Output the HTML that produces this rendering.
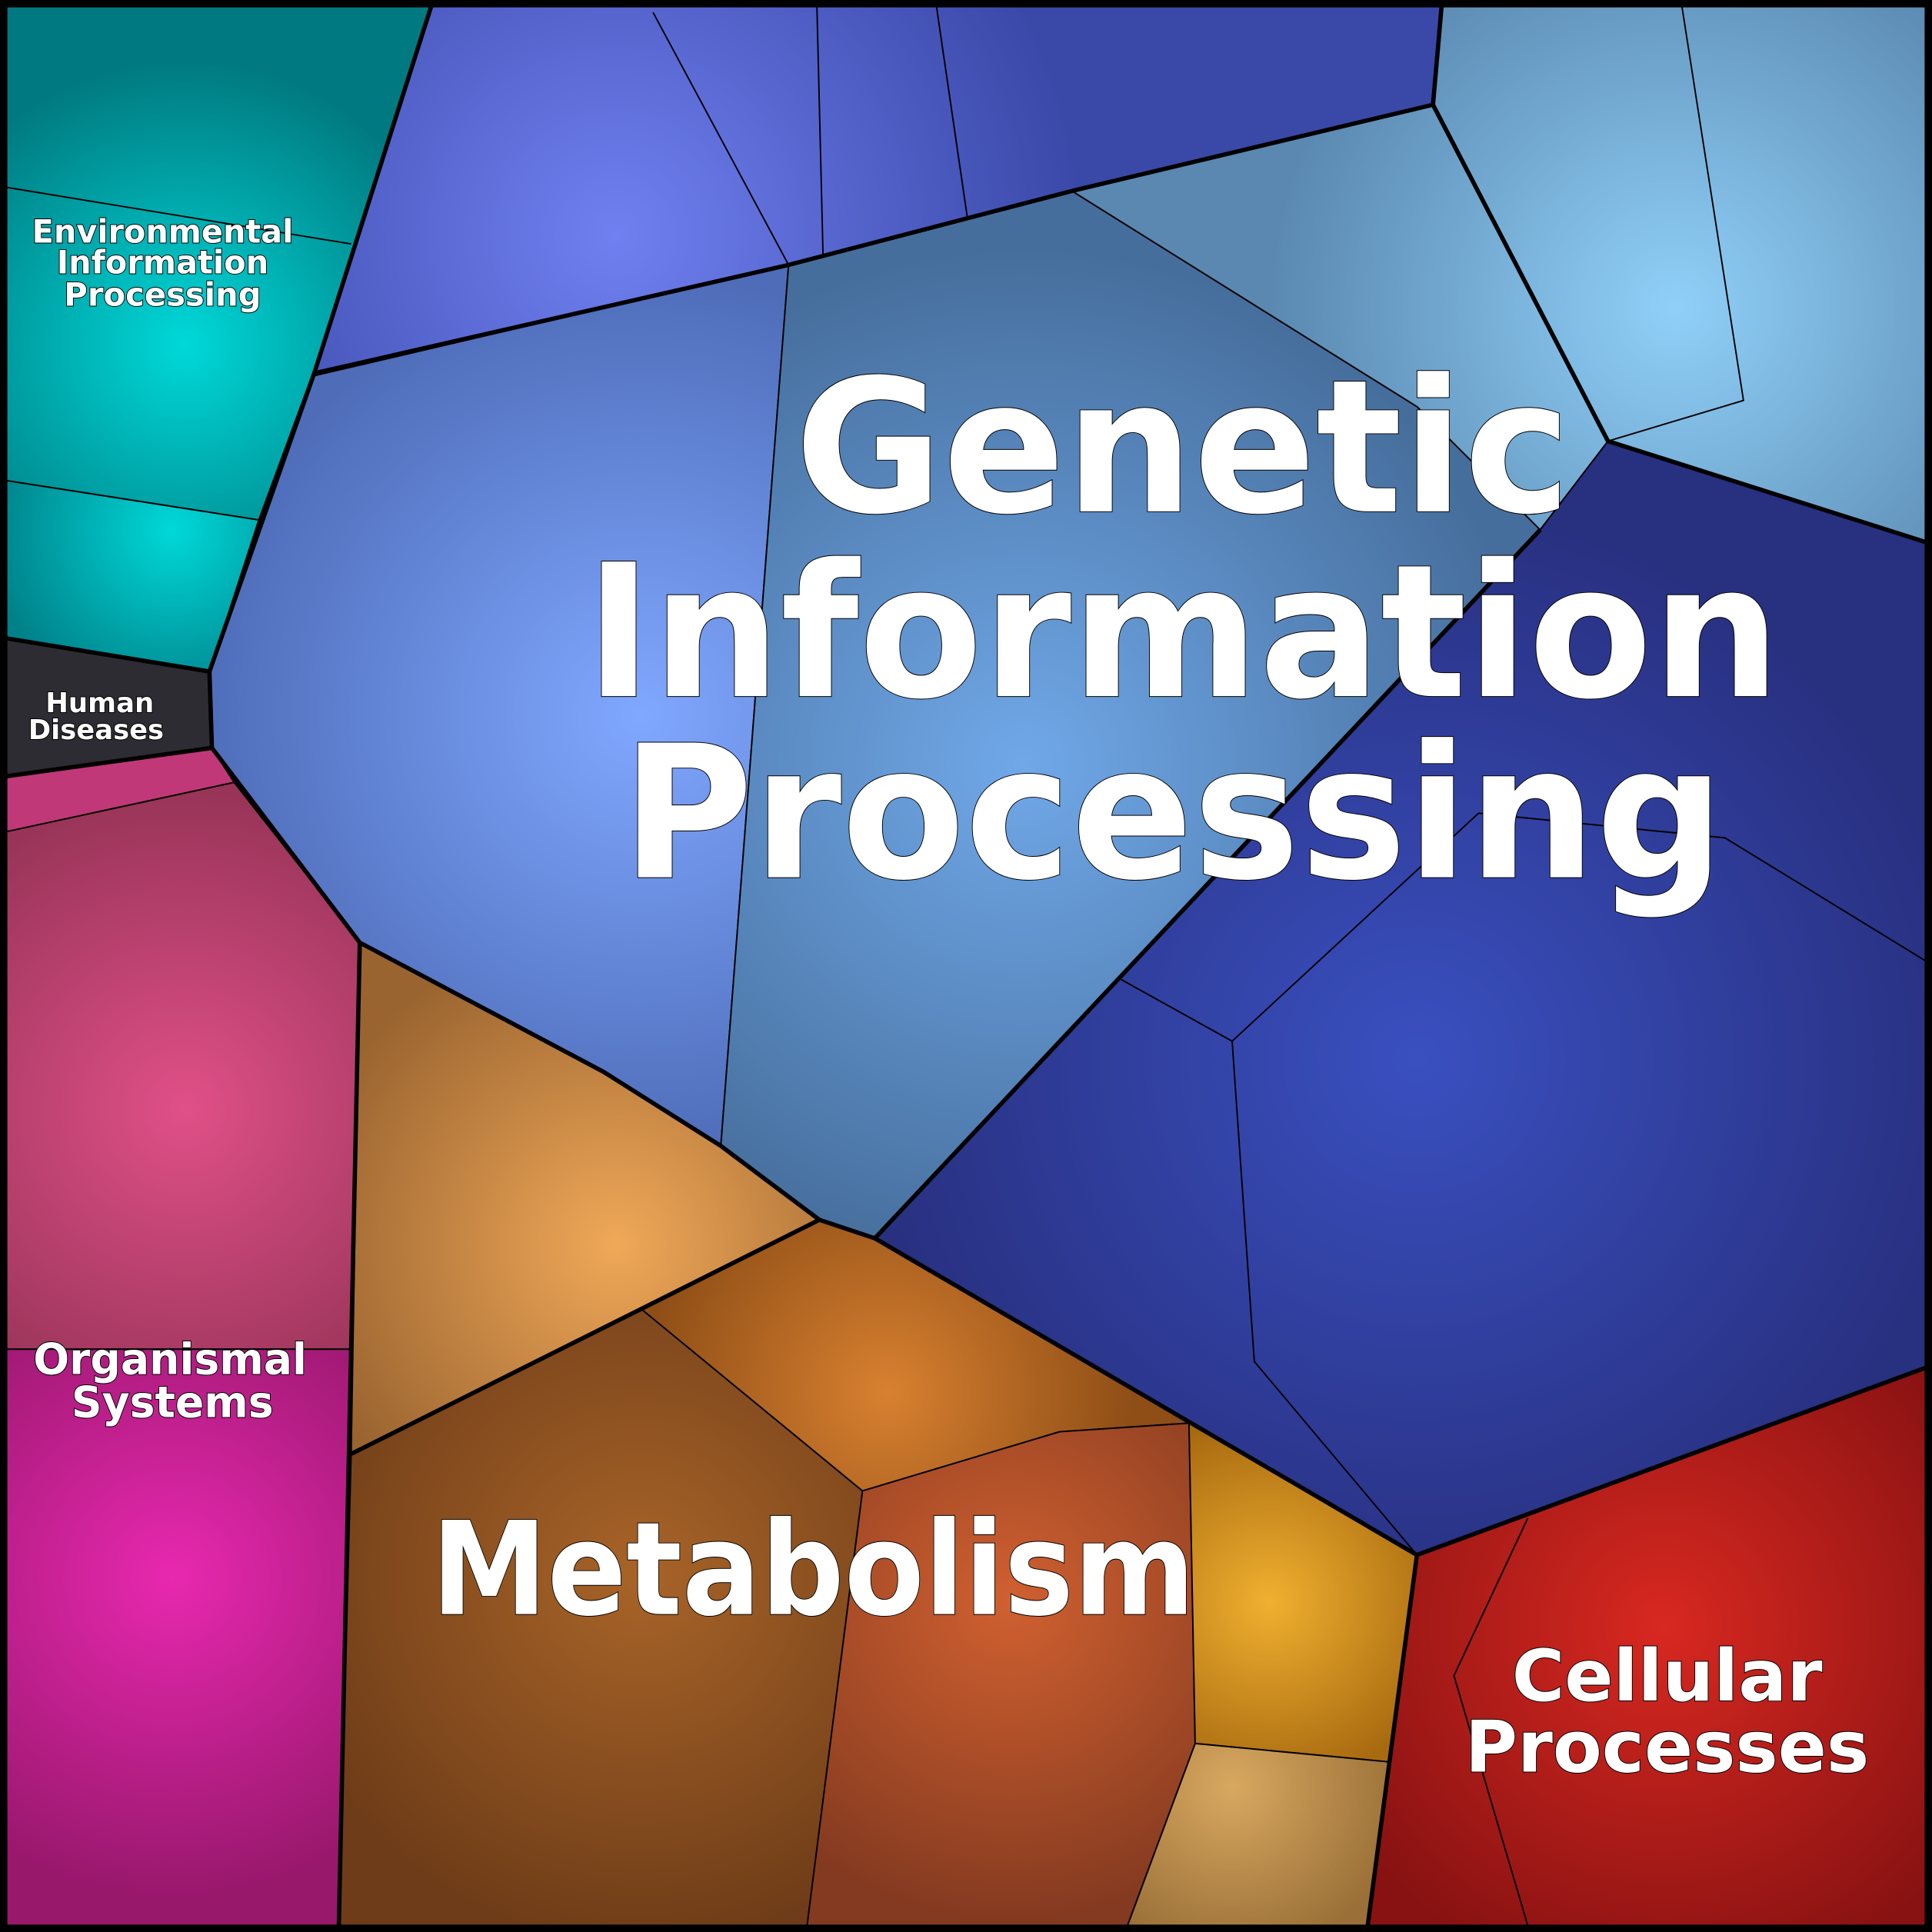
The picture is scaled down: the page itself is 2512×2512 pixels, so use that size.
<!DOCTYPE html>
<html><head><meta charset="utf-8">
<style>
html,body{margin:0;padding:0;background:#000;}
svg{display:block;}
text{font-family:"DejaVu Sans","Liberation Sans",sans-serif;font-weight:bold;fill:#fff;stroke:#000;paint-order:stroke;text-anchor:middle;}
</style></head>
<body>
<svg width="2512" height="2512" viewBox="0 0 1568 1568" xmlns="http://www.w3.org/2000/svg">
<defs>
<radialGradient id="gA" gradientUnits="userSpaceOnUse" cx="500" cy="190" r="380"><stop offset="0" stop-color="#7080f0"/><stop offset="1" stop-color="#3a48a8"/></radialGradient>
<radialGradient id="gB" gradientUnits="userSpaceOnUse" cx="520" cy="580" r="360"><stop offset="0" stop-color="#80a8ff"/><stop offset="1" stop-color="#4e6cb8"/></radialGradient>
<radialGradient id="gC" gradientUnits="userSpaceOnUse" cx="830" cy="620" r="420"><stop offset="0" stop-color="#70a8e8"/><stop offset="1" stop-color="#466e9c"/></radialGradient>
<radialGradient id="gD" gradientUnits="userSpaceOnUse" cx="1360" cy="250" r="330"><stop offset="0" stop-color="#90d0f8"/><stop offset="1" stop-color="#5a88b0"/></radialGradient>
<radialGradient id="gE" gradientUnits="userSpaceOnUse" cx="1150" cy="860" r="450"><stop offset="0" stop-color="#3a50c0"/><stop offset="1" stop-color="#283080"/></radialGradient>
<radialGradient id="gM1" gradientUnits="userSpaceOnUse" cx="500" cy="1010" r="260"><stop offset="0" stop-color="#f0a858"/><stop offset="1" stop-color="#9a6430"/></radialGradient>
<radialGradient id="gM2" gradientUnits="userSpaceOnUse" cx="520" cy="1280" r="300"><stop offset="0" stop-color="#a86428"/><stop offset="1" stop-color="#6e3c18"/></radialGradient>
<radialGradient id="gM3" gradientUnits="userSpaceOnUse" cx="720" cy="1130" r="200"><stop offset="0" stop-color="#d88030"/><stop offset="1" stop-color="#8e4e16"/></radialGradient>
<radialGradient id="gM4" gradientUnits="userSpaceOnUse" cx="820" cy="1300" r="260"><stop offset="0" stop-color="#d06030"/><stop offset="1" stop-color="#843a20"/></radialGradient>
<radialGradient id="gM5" gradientUnits="userSpaceOnUse" cx="1030" cy="1300" r="150"><stop offset="0" stop-color="#f0b030"/><stop offset="1" stop-color="#a86a10"/></radialGradient>
<radialGradient id="gM6" gradientUnits="userSpaceOnUse" cx="1000" cy="1450" r="140"><stop offset="0" stop-color="#d8a860"/><stop offset="1" stop-color="#9a7038"/></radialGradient>
<radialGradient id="gR" gradientUnits="userSpaceOnUse" cx="1350" cy="1320" r="300"><stop offset="0" stop-color="#d82820"/><stop offset="1" stop-color="#881212"/></radialGradient>
<radialGradient id="gT" gradientUnits="userSpaceOnUse" cx="150" cy="280" r="230"><stop offset="0" stop-color="#00d8d8"/><stop offset="1" stop-color="#007a80"/></radialGradient>
<radialGradient id="gT2" gradientUnits="userSpaceOnUse" cx="140" cy="430" r="150"><stop offset="0" stop-color="#00d8d8"/><stop offset="1" stop-color="#008088"/></radialGradient>
<radialGradient id="gO1" gradientUnits="userSpaceOnUse" cx="150" cy="900" r="260"><stop offset="0" stop-color="#e05088"/><stop offset="1" stop-color="#983458"/></radialGradient>
<radialGradient id="gO2" gradientUnits="userSpaceOnUse" cx="140" cy="1280" r="260"><stop offset="0" stop-color="#e828b0"/><stop offset="1" stop-color="#98186c"/></radialGradient>
</defs>
<rect x="0" y="0" width="1568" height="1568" fill="#000"/>
<g stroke="#000" stroke-width="1.2" stroke-linejoin="round">
<polygon fill="url(#gA)" points="350,5 1170,5 1163,85 870,155 640,215 255,305"/>
<polygon fill="url(#gB)" points="255,305 640,215 585,930 490,870 292,765 172,607 170,545"/>
<polygon fill="url(#gC)" points="640,215 870,155 1150,330 1250,430 710,1005 665,990 585,930"/>
<polygon fill="url(#gD)" points="1163,85 1170,5 1563,5 1563,440 1305,358 1250,430 1150,330 870,155"/>
<polygon fill="url(#gE)" points="1250,430 1305,358 1563,440 1563,1110 1150,1262 710,1005"/>
<polyline fill="none" points="1305,358 1415,325 1365,5"/>
<polyline fill="none" points="1000,845 1018,1105 1150,1262"/>
<polyline fill="none" points="1000,845 910,795"/>
<polyline fill="none" points="1000,845 1200,660 1400,680 1563,780"/>
<polyline fill="none" points="640,215 530,10"/>
<polyline fill="none" points="668,208 663,5"/>
<polyline fill="none" points="785,176 760,5"/>
<polygon fill="url(#gM1)" points="292,765 490,870 585,930 665,990 285,1180"/>
<polygon fill="url(#gM2)" points="285,1180 520,1062 700,1210 655,1563 275,1563"/>
<polygon fill="url(#gM3)" points="520,1062 665,990 710,1005 965,1155 860,1162 700,1210"/>
<polygon fill="url(#gM4)" points="700,1210 860,1162 965,1155 970,1415 915,1563 655,1563"/>
<polygon fill="url(#gM5)" points="965,1155 1150,1262 1128,1430 970,1415"/>
<polygon fill="url(#gM6)" points="970,1415 1128,1430 1110,1563 915,1563"/>
<polygon fill="url(#gR)" points="1150,1262 1563,1110 1563,1563 1110,1563"/>
<polyline fill="none" points="1240,1232 1180,1360 1240,1563"/>
<polygon fill="url(#gT)" points="5,5 350,5 255,300 210,422 5,390"/>
<polygon fill="url(#gT2)" points="5,390 210,422 170,545 5,518"/>
<polyline fill="none" points="5,152 285,198"/>
<polygon fill="#2c2c32" points="5,518 170,545 172,607 5,630"/>
<polygon fill="#c03878" points="5,630 172,607 190,635 5,675"/>
<polygon fill="url(#gO1)" points="5,675 190,635 292,765 285,1095 5,1095"/>
<polygon fill="url(#gO2)" points="5,1095 285,1095 275,1563 5,1563"/>
</g>
<g fill="none" stroke="#000" stroke-width="3.5" stroke-linejoin="round">
<polyline points="350,5 255,303 170,545 5,518"/>
<polyline points="170,545 172,607 5,630"/>
<polyline points="172,607 292,765 490,870 585,930 665,990 710,1005 1150,1262 1563,1110"/>
<polyline points="292,765 275,1563"/>
<polyline points="1150,1262 1110,1563"/>
<polyline points="255,303 640,215 870,155 1163,85 1170,5"/>
<polyline points="1163,85 1305,358 1563,440"/>
<polyline points="710,1005 1250,430"/>
<polyline points="285,1180 665,990"/>
<rect x="3" y="3" width="1562" height="1562" stroke-width="6"/>
</g>
<g stroke-width="1.2">
<text x="960" y="415" font-size="150" textLength="630" lengthAdjust="spacingAndGlyphs">Genetic</text>
<text x="960" y="565" font-size="150" textLength="970" lengthAdjust="spacingAndGlyphs">Information</text>
<text x="952" y="712" font-size="150" textLength="895" lengthAdjust="spacingAndGlyphs">Processing</text>
<text x="660" y="1310" font-size="105" textLength="620" lengthAdjust="spacingAndGlyphs">Metabolism</text>
<text x="1353" y="1380" font-size="58" textLength="252" lengthAdjust="spacingAndGlyphs">Cellular</text>
<text x="1353" y="1438" font-size="58" textLength="328" lengthAdjust="spacingAndGlyphs">Processes</text>
<text x="138" y="1115" font-size="35" textLength="222" lengthAdjust="spacingAndGlyphs">Organismal</text>
<text x="140" y="1150" font-size="35" textLength="164" lengthAdjust="spacingAndGlyphs">Systems</text>
<text x="132" y="197" font-size="26" textLength="212" lengthAdjust="spacingAndGlyphs">Environmental</text>
<text x="132" y="222" font-size="26" textLength="172" lengthAdjust="spacingAndGlyphs">Information</text>
<text x="132" y="248" font-size="26" textLength="160" lengthAdjust="spacingAndGlyphs">Processing</text>
<text x="81" y="578" font-size="22" textLength="88" lengthAdjust="spacingAndGlyphs">Human</text>
<text x="78" y="600" font-size="22" textLength="110" lengthAdjust="spacingAndGlyphs">Diseases</text>
</g>
</svg>
</body></html>
